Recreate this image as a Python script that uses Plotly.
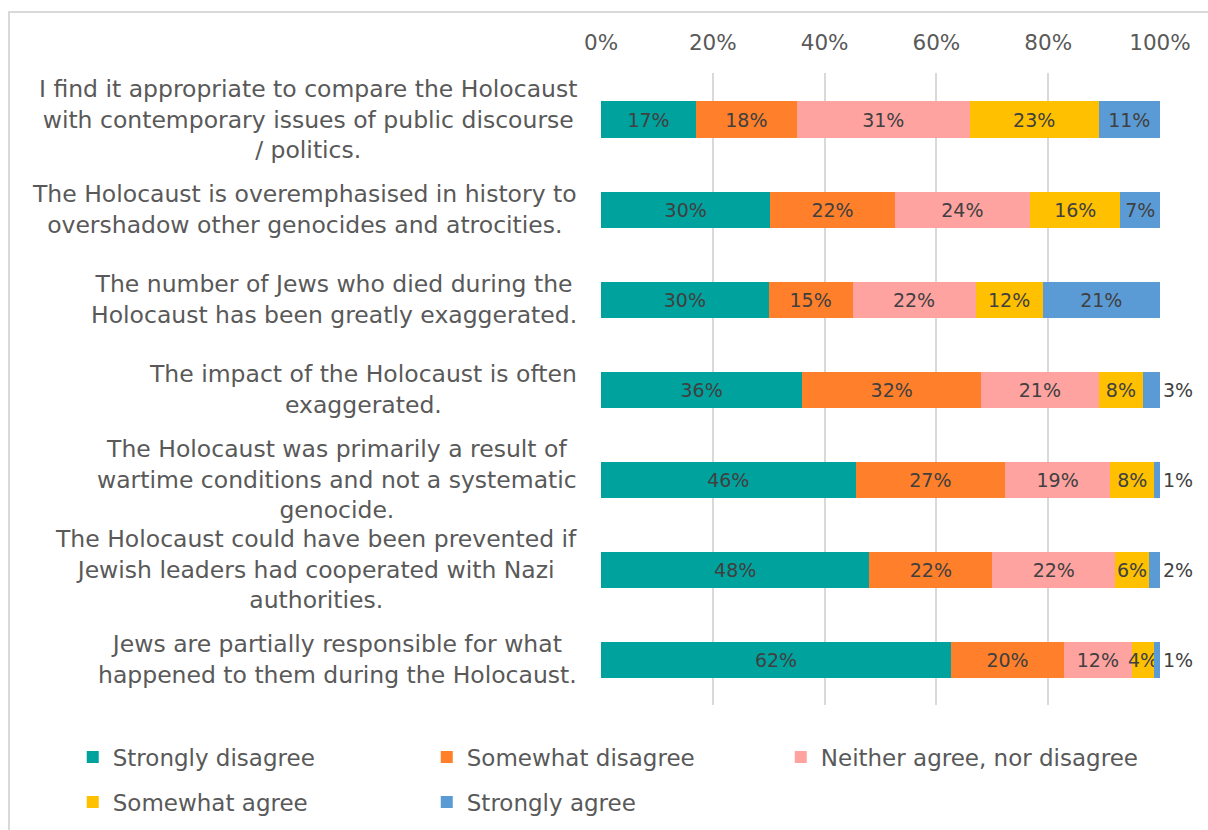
import plotly.graph_objects as go

statements = [
    "I find it appropriate to compare the Holocaust<br>with contemporary issues of public discourse<br>/ politics.",
    "The Holocaust is overemphasised in history to<br>overshadow other genocides and atrocities.",
    "The number of Jews who died during the<br>Holocaust has been greatly exaggerated.",
    "The impact of the Holocaust is often<br>exaggerated.",
    "The Holocaust was primarily a result of<br>wartime conditions and not a systematic<br>genocide.",
    "The Holocaust could have been prevented if<br>Jewish leaders had cooperated with Nazi<br>authorities.",
    "Jews are partially responsible for what<br>happened to them during the Holocaust.",
]

strongly_disagree = [17, 30, 30, 36, 46, 48, 62]
somewhat_disagree = [18, 22, 15, 32, 27, 22, 20]
neither = [31, 24, 22, 21, 19, 22, 12]
somewhat_agree = [23, 16, 12, 8, 8, 6, 4]
strongly_agree = [11, 7, 21, 3, 1, 2, 1]

x_ticks = [0, 20, 40, 60, 80, 100]

series_names = ["Strongly disagree", "Somewhat disagree", "Neither agree, nor disagree",
                "Somewhat agree", "Strongly agree"]
series_values = [strongly_disagree, somewhat_disagree, neither, somewhat_agree, strongly_agree]
series_colors = ["#00A29E", "#FF7F2A", "#FFA3A1", "#FFC000", "#5B9BD5"]

# Legend grid: three columns, two rows (paper coordinates)
legend_cols = [-0.945, -0.3117, 0.3216]
legend_rows = [-0.0823, -0.1535]
legend_slots = [(0, 0), (1, 0), (2, 0), (0, 1), (1, 1)]

FONT = "DejaVu Sans"
AXIS_GREY = "#595959"
LABEL_GREY = "#404040"
GRID = "#D9D9D9"

label_font = dict(family=FONT, size=19, color=LABEL_GREY)

fig = go.Figure()
legend_layout = {}
for i, (name, vals, color) in enumerate(zip(series_names, series_values, series_colors)):
    last = i == len(series_names) - 1
    leg_id = "legend" if i == 0 else f"legend{i + 1}"
    col, row = legend_slots[i]
    legend_layout[leg_id] = dict(
        x=legend_cols[col], y=legend_rows[row],
        xanchor="left", yanchor="middle", orientation="h",
        font=dict(family=FONT, size=23, color=AXIS_GREY),
        bgcolor="rgba(0,0,0,0)", itemwidth=30,
    )
    fig.add_trace(go.Bar(
        y=statements,
        x=vals,
        name=name,
        orientation="h",
        marker=dict(color=color, line=dict(width=0)),
        text=[f"{v}%" for v in vals],
        textposition="auto" if last else "inside",
        insidetextanchor="middle",
        textangle=0,
        constraintext="none",
        cliponaxis=False,
        textfont=label_font,
        outsidetextfont=label_font,
        insidetextfont=label_font,
        legend=leg_id,
        hoverinfo="skip",
    ))

# Statement labels: right-aligned block, centred lines
for s in statements:
    fig.add_annotation(
        x=0, xref="paper", y=s, yref="y",
        text=s, showarrow=False,
        xanchor="right", yanchor="middle", align="center",
        xshift=-22,
        font=dict(family=FONT, size=23.5, color=AXIS_GREY),
    )

# Outer frame
fig.add_shape(
    type="rect", xref="paper", yref="paper",
    x0=-1.059, x1=1.3, y0=-0.4, y1=1.0965,
    line=dict(color=GRID, width=2), fillcolor="rgba(0,0,0,0)", layer="below",
)

fig.update_layout(
    width=1208, height=830,
    margin=dict(l=601, r=48, t=73, b=125, autoexpand=False),
    paper_bgcolor="white", plot_bgcolor="white",
    barmode="stack", barnorm="percent", bargap=0.6,
    font=dict(family=FONT, size=22, color=AXIS_GREY),
    xaxis=dict(
        side="top", range=[0, 100.001], tickvals=x_ticks,
        ticktext=[f"{t}%" for t in x_ticks],
        showgrid=True, gridcolor=GRID, gridwidth=2,
        zeroline=False, showline=False, ticks="",
        tickfont=dict(family=FONT, size=21.5, color=AXIS_GREY),
        ticklabelstandoff=18,
        fixedrange=True,
    ),
    yaxis=dict(
        autorange="reversed", showticklabels=False,
        showgrid=False, zeroline=False, showline=False, ticks="",
        fixedrange=True,
    ),
    showlegend=True,
    **legend_layout,
)

fig.write_html("out.html")
